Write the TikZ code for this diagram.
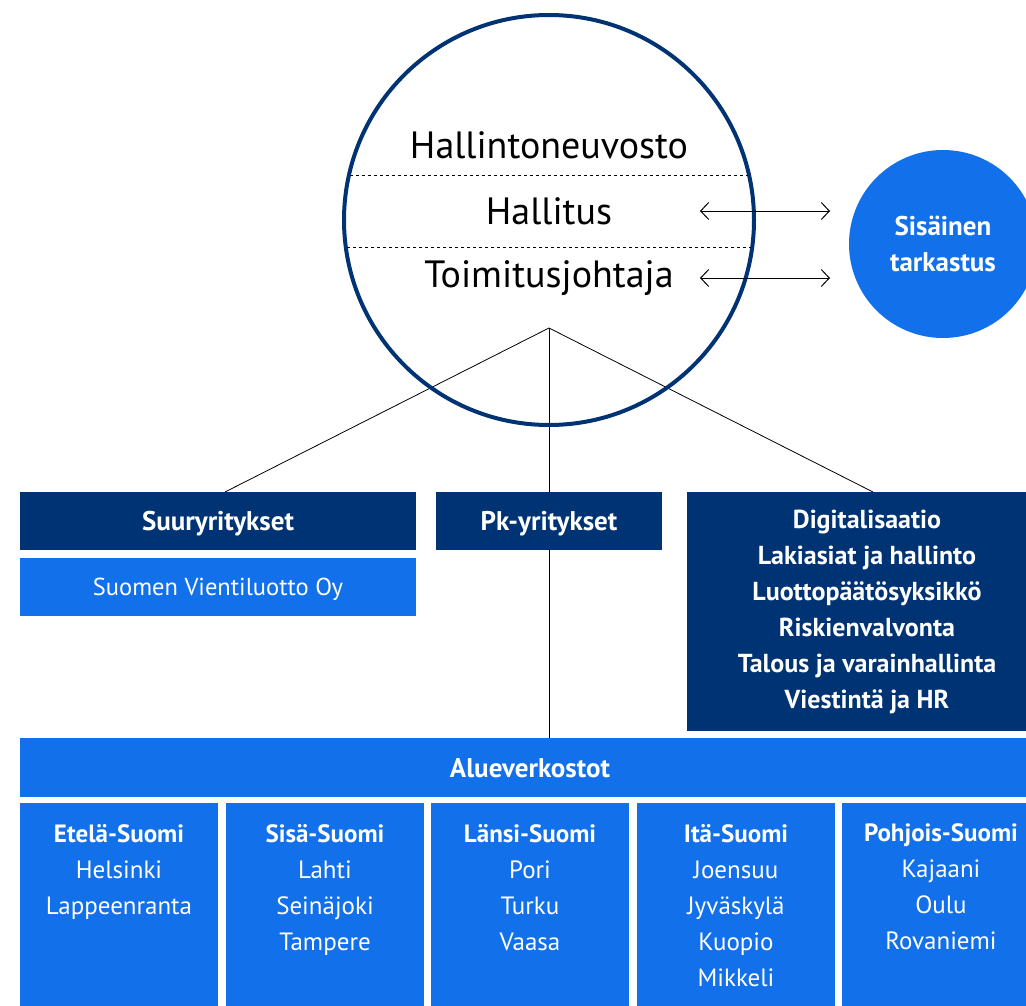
\documentclass[tikz,border=0pt]{standalone}
\usepackage{fontspec}
\setmainfont{PT Sans}
\usepackage{tikz}
\usetikzlibrary{arrows.meta}
\usetikzlibrary{positioning}
\definecolor{navy}{RGB}{0,51,115}
\definecolor{bright}{RGB}{17,112,234}

\begin{document}
\begin{tikzpicture}[x=1pt, y=-1pt,
  every node/.style={inner sep=0pt, outer sep=0pt, align=center},
  darkbox/.style={fill=navy, text=white, font=\fontsize{27}{36}\selectfont\bfseries},
  bluebox/.style={fill=bright, text=white, font=\fontsize{24.5}{36}\selectfont},
  region/.style={fill=bright, minimum width=198pt, minimum height=207pt},
  regtext/.style={anchor=north, text=white, font=\fontsize{25}{36}\selectfont},
  link/.style={draw=black, line width=0.8pt},
  twoway/.style={{Straight Barb[length=8pt,width=17pt]}-{Straight Barb[length=8pt,width=17pt]}, line width=1pt}]
\useasboundingbox (0,0) rectangle (1026,1006);
\clip (0,0) rectangle (1026,1006);
\coordinate (apex) at (549,328);
\node[darkbox, text depth=0pt, minimum width=396pt, minimum height=58pt] (suur) at (218,521) {Suuryritykset};
\node[bluebox, text depth=0pt, minimum width=396pt, minimum height=58pt] (svo) at (218,587) {Suomen Vientiluotto Oy};
\node[darkbox, text depth=0pt, minimum width=226pt, minimum height=58pt] (pk) at (549,521) {Pk-yritykset};
\node[darkbox, minimum width=360pt, minimum height=239pt, font=\fontsize{26}{36}\selectfont\bfseries] (tuki) at (867,611.5) {Digitalisaatio\\Lakiasiat ja hallinto\\Luottopäätösyksikkö\\Riskienvalvonta\\Talous ja varainhallinta\\Viestintä ja HR};
\node[darkbox, text depth=0pt, fill=bright, minimum width=1020pt, minimum height=59pt] (alue) at (530,767.5) {Alueverkostot};
\draw[link] ([xshift=7pt]suur.north) -- (apex) -- ([xshift=6pt]tuki.north);
\draw[link] (apex) -- (pk.north);
\draw[link] (pk.south) -- (pk.south |- alue.north);
\node[circle, draw=navy, line width=4pt, minimum size=410pt] (board) at (549,220) {};
\draw[dashed, line width=0.8pt] (350,175) -- (748,175);
\draw[dashed, line width=0.8pt] (347,247) -- (751,247);
\node[font=\fontsize{38}{38}\selectfont] (hn) at (549,145) {Hallintoneuvosto};
\node[font=\fontsize{38}{38}\selectfont] (hall) at (549,211) {Hallitus};
\node[font=\fontsize{38}{38}\selectfont] (tj) at (549,278) {Toimitusjohtaja};
\node[circle, fill=bright, text=white, minimum size=188pt, font=\fontsize{27}{36}\selectfont\bfseries] (sis) at (943,244) {Sisäinen\\tarkastus};
\coordinate (h1) at (700,211);
\coordinate (h2) at (830,211);
\coordinate (j1) at (700,278);
\coordinate (j2) at (830,278);
\draw[twoway] (h1) -- (h2);
\draw[twoway] (j1) -- (j2);
% alueet
\node[region] (r1) at (119,906.5) {};
\node[region] (r2) at (325,906.5) {};
\node[region] (r3) at (530,906.5) {};
\node[region] (r4) at (736,906.5) {};
\node[region] (r5) at (941,906.5) {};
\node[regtext] (t1) at (119,824) {\textbf{Etelä-Suomi}\\Helsinki\\Lappeenranta};
\node[regtext] (t2) at (325,824) {\textbf{Sisä-Suomi}\\Lahti\\Seinäjoki\\Tampere};
\node[regtext] (t3) at (530,824) {\textbf{Länsi-Suomi}\\Pori\\Turku\\Vaasa};
\node[regtext] (t4) at (736,824) {\textbf{Itä-Suomi}\\Joensuu\\Jyväskylä\\Kuopio\\Mikkeli};
\node[regtext] (t5) at (941,824) {\textbf{Pohjois-Suomi}\\Kajaani\\Oulu\\Rovaniemi};
\end{tikzpicture}
\end{document}
